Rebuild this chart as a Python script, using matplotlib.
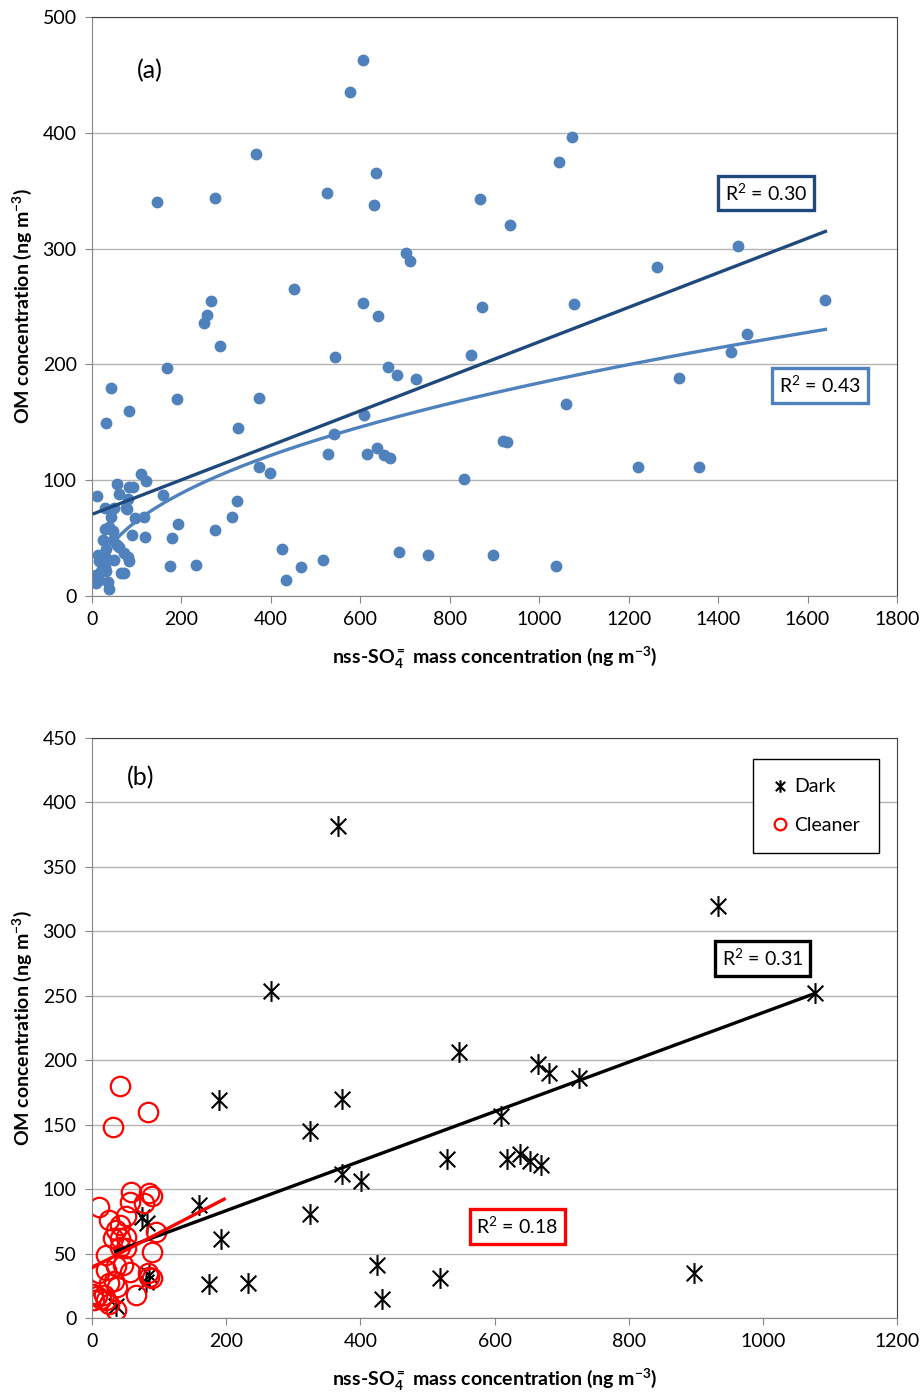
import numpy as np
import matplotlib
matplotlib.use("Agg")
import matplotlib.pyplot as plt
from matplotlib.path import Path

plt.rcParams['font.family'] = ['Lato', 'DejaVu Sans']
plt.rcParams['mathtext.default'] = 'regular'

# ---------------- data: panel (a) all samples ----------------
a_x = [606, 577, 367, 1073, 1044, 635, 526, 631, 145, 275, 868, 935, 702, 711, 452, 266, 257, 250,
       606, 640, 872, 1078, 1264, 1445, 1640, 1465, 1429, 286, 168, 543, 662, 682, 725, 848, 1313,
       1060, 189, 373, 83, 42, 31, 608, 326, 541, 919, 928, 637, 615, 528, 653, 666, 373, 399, 1221,
       1357, 832, 424, 686, 751, 897, 517, 174, 233, 467, 1038, 433, 313, 325, 275, 192, 179, 159,
       110, 121, 55, 83, 91, 11, 61, 80, 28, 50, 76, 79, 42, 97, 117, 39, 28, 46, 89, 119, 24, 46,
       57, 31, 61, 72, 80, 83, 13, 16, 31, 50, 28, 31, 65, 72, 9, 16, 9, 35, 37, 20]
a_y = [463, 435, 382, 396, 375, 365, 348, 338, 340, 344, 343, 320, 296, 289, 265, 255, 243, 236,
       253, 242, 250, 252, 284, 302, 256, 226, 211, 216, 197, 206, 198, 191, 187, 208, 188,
       166, 170, 171, 160, 180, 149, 156, 145, 140, 134, 133, 128, 123, 123, 122, 119, 111, 106, 111,
       111, 101, 41, 38, 35, 35, 31, 26, 27, 25, 26, 14, 68, 82, 57, 62, 50, 87,
       105, 99, 97, 94, 94, 86, 88, 84, 76, 76, 76, 75, 68, 67, 68, 60, 58, 56, 53, 51, 48, 48,
       44, 41, 42, 37, 34, 30, 35, 30, 33, 31, 25, 22, 20, 20, 18, 14, 11, 12, 6, 22]

# trendlines of panel (a)
a_lin_slope, a_lin_icpt, a_lin_range = 0.149, 70.5, (5, 1640)
a_pow_coef, a_pow_exp, a_pow_range = 8.05, 0.453, (55, 1640)
a_r2_lin, a_r2_pow = "R$^{2}$ = 0.30", "R$^{2}$ = 0.43"

# ---------------- data: panel (b) ----------------
dark_x = [367, 933, 267, 1078, 547, 665, 681, 726, 189, 373, 610, 325, 638, 619, 653, 669, 529,
          373, 401, 160, 325, 192, 425, 897, 519, 174, 233, 432, 75, 82, 85, 80, 36]
dark_y = [382, 320, 254, 252, 206, 197, 190, 186, 169, 170, 157, 145, 127, 123, 122, 119, 123,
          112, 106, 88, 81, 61, 41, 35, 31, 26, 27, 15, 78, 74, 33, 28, 9]
clean_x = [42, 84, 32, 58, 85, 90, 78, 56, 11, 26, 51, 95, 41, 36, 31, 41, 51, 21, 41, 51, 90,
           11, 21, 36, 46, 56, 33, 38, 26, 83, 90, 85, 66, 1, 8, 13, 3, 18, 21, 36, 26]
clean_y = [180, 160, 148, 98, 97, 95, 89, 90, 86, 76, 79, 67, 72, 68, 62, 62, 63, 49, 55, 54, 51,
           35, 37, 40, 41, 36, 29, 24, 27, 35, 31, 32, 18, 19, 17, 15, 14, 18, 14, 6, 11]

dark_slope, dark_icpt, dark_range = 0.192, 44.9, (35, 1078)
clean_slope, clean_icpt, clean_range = 0.27, 39.0, (1, 197)
b_r2_dark, b_r2_clean = "R$^{2}$ = 0.31", "R$^{2}$ = 0.18"

# ---------------- styles ----------------
BLUE = '#4F81BD'
NAVY = '#1F497D'
GRID = '#B3B3B3'
AXC = '#868686'
FS = 14

# Excel-like star marker: X plus vertical line
star = Path([(-0.75, -0.75), (0.75, 0.75), (-0.75, 0.75), (0.75, -0.75), (0, -1), (0, 1)],
            [Path.MOVETO, Path.LINETO, Path.MOVETO, Path.LINETO, Path.MOVETO, Path.LINETO])

fig = plt.figure(figsize=(9.24, 13.95), dpi=100)
axA = fig.add_axes([92/924, 1-596/1395, 805/924, 579/1395])
axB = fig.add_axes([92/924, 1-1318/1395, 805/924, 580/1395])


def style(ax, xmax, xstep, ymax, ystep):
    ax.set_xlim(0, xmax)
    ax.set_ylim(0, ymax)
    ax.set_xticks(np.arange(0, xmax + 1, xstep))
    ax.set_yticks(np.arange(0, ymax + 1, ystep))
    ax.yaxis.grid(True, color=GRID, lw=1)
    ax.set_axisbelow(True)
    for s in ['left', 'bottom']:
        ax.spines[s].set_color(AXC)
    for s in ['top', 'right']:
        ax.spines[s].set_color('#404040')
    ax.tick_params(axis='both', which='both', direction='out', length=5, color=AXC,
                   labelsize=FS, pad=6)
    ax.set_ylabel(r'OM concentration (ng m$^{-3}$)', fontsize=FS, fontweight='bold', labelpad=6)
    ax.set_xlabel(r'nss-SO$_4^{=}$ mass concentration (ng m$^{-3}$)', fontsize=FS,
                  fontweight='bold', labelpad=12)


BOX = 'square,pad=0.35'

# ---------------- panel (a) ----------------
style(axA, 1800, 200, 500, 100)
axA.plot(a_x, a_y, 'o', color=BLUE, ms=7.5, mec=BLUE, zorder=2)
xl = np.array(a_lin_range, dtype=float)
axA.plot(xl, a_lin_icpt + a_lin_slope * xl, color=NAVY, lw=2.4, zorder=3)
xp = np.linspace(a_pow_range[0], a_pow_range[1], 300)
axA.plot(xp, a_pow_coef * xp ** a_pow_exp, color=BLUE, lw=2.4, zorder=3)
axA.text(130, 454, '(a)', fontsize=18, ha='center', va='center')
axA.text(1507, 348, a_r2_lin, fontsize=FS, ha='center', va='center',
         bbox=dict(boxstyle=BOX, fc='white', ec=NAVY, lw=2.4), zorder=5)
axA.text(1628, 182, a_r2_pow, fontsize=FS, ha='center', va='center',
         bbox=dict(boxstyle=BOX, fc='white', ec=BLUE, lw=2.4), zorder=5)

# ---------------- panel (b) ----------------
style(axB, 1200, 200, 450, 50)
axB.plot(dark_x, dark_y, ls='none', marker=star, ms=15, mew=1.5, mec='black', mfc='none',
         color='black', label='Dark', zorder=2)
axB.plot(clean_x, clean_y, ls='none', marker='o', ms=14, mew=1.6, mec='#FF0000', mfc='none',
         color='#FF0000', label='Cleaner', zorder=2)
xd = np.array(dark_range, dtype=float)
axB.plot(xd, dark_icpt + dark_slope * xd, color='black', lw=2.4, zorder=3)
xc = np.array(clean_range, dtype=float)
axB.plot(xc, clean_icpt + clean_slope * xc, color='#FF0000', lw=2.4, zorder=3)
axB.text(72, 419, '(b)', fontsize=18, ha='center', va='center')
axB.text(999, 279, b_r2_dark, fontsize=FS, ha='center', va='center',
         bbox=dict(boxstyle=BOX, fc='white', ec='black', lw=2.4), zorder=5)
axB.text(634, 71, b_r2_clean, fontsize=FS, ha='center', va='center',
         bbox=dict(boxstyle=BOX, fc='white', ec='#FF0000', lw=2.4), zorder=5)

h = axB.get_legend_handles_labels()[0]
leg = axB.legend(handles=h, labels=['Dark', 'Cleaner'], loc='upper right',
                 bbox_to_anchor=(0.978, 0.964), fontsize=FS, frameon=True, fancybox=False,
                 edgecolor='black', framealpha=1, labelspacing=1.1, borderpad=1.0,
                 handlelength=0.8, handletextpad=0.3, markerscale=0.6, borderaxespad=0)
leg.get_frame().set_linewidth(1.0)

fig.savefig('out.png', dpi=100)
